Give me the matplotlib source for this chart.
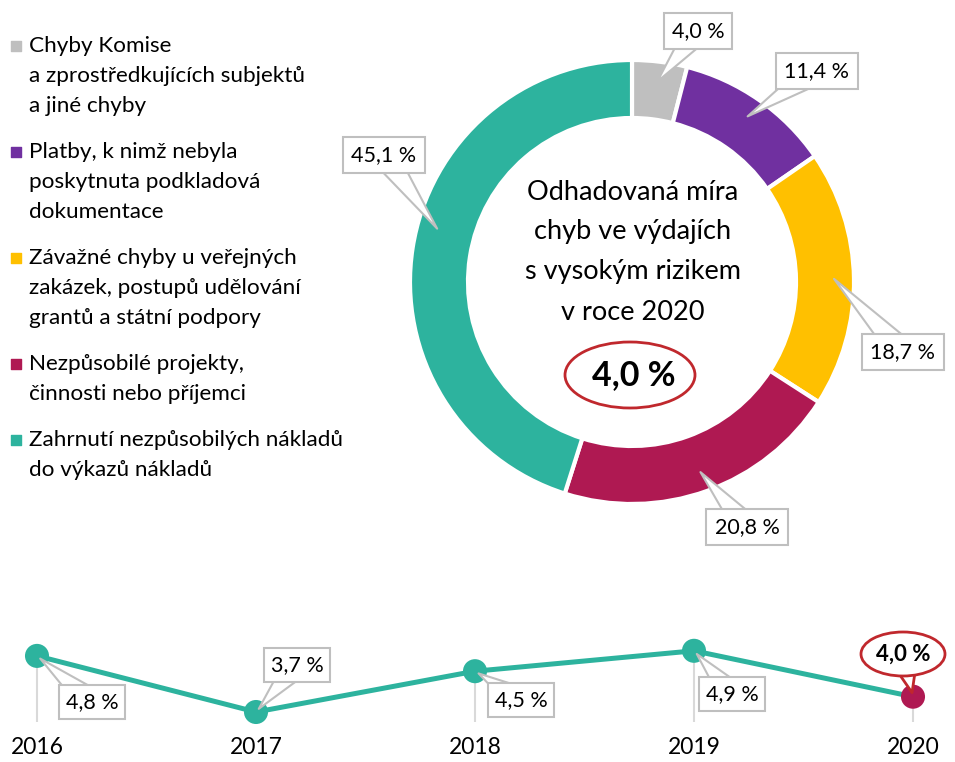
import numpy as np
import matplotlib.pyplot as plt
from matplotlib.patches import Ellipse

plt.rcParams['font.family'] = ['Lato', 'DejaVu Sans']

# data
categories = ['Chyby Komise\na zprostředkujících subjektů\na jiné chyby',
              'Platby, k nimž nebyla\nposkytnuta podkladová\ndokumentace',
              'Závažné chyby u veřejných\nzakázek, postupů udělování\ngrantů a státní podpory',
              'Nezpůsobilé projekty,\nčinnosti nebo příjemci',
              'Zahrnutí nezpůsobilých nákladů\ndo výkazů nákladů']
shares = [4.0, 11.4, 18.7, 20.8, 45.1]
colors = ['#BFBFBF', '#7030A0', '#FFC000', '#AF1952', '#2DB39E']

years = [2016, 2017, 2018, 2019, 2020]
rates = [4.8, 3.7, 4.5, 4.9, 4.0]

center_title = 'Odhadovaná míra\nchyb ve výdajích\ns vysokým rizikem\nv roce 2020'
current_rate = 4.0

teal = '#2DB39E'
crimson = '#AF1952'
red = '#C0282D'
grey = '#BFBFBF'


def fmt(v):
    return f'{v:.1f}'.replace('.', ',') + ' %'


W, H = 955, 762
fig = plt.figure(figsize=(W / 100, H / 100), dpi=100)

# legend (pixel coords)
lg = fig.add_axes([0, 0, 1, 1])
lg.set_xlim(0, W)
lg.set_ylim(H, 0)
lg.axis('off')
y = 46
for lab, c in zip(categories, colors):
    lines = lab.split('\n')
    lg.scatter([16], [y], marker='s', s=45, color=c)
    for i, line in enumerate(lines):
        lg.text(29, y + 30 * i, line, ha='left', va='center', fontsize=16.2)
    y += 30 * (len(lines) - 1) + 46

# donut, 1 data unit = R px
CX, CY, R = 632, 282, 222


def px(x, y):
    return (x - CX) / R, (CY - y) / R


ax = fig.add_axes([332 / W, 1 - 560 / H, (W - 332) / W, 560 / H])
ax.pie(shares, colors=colors, startangle=90, counterclock=False, radius=1,
       wedgeprops=dict(width=58 / R, edgecolor='white', linewidth=3))
ax.set_xlim((332 - CX) / R, (W - CX) / R)
ax.set_ylim((CY - 560) / R, CY / R)
ax.set_aspect('equal')
ax.axis('off')

label_pos = [(698, 31), (817, 71), (903, 352), (747, 527), (384, 155)]
tip_frac = [0.5, 0.5, 0.5, 0.5, 0.54]  # where along each slice the pointer lands
cum = np.cumsum([0] + shares)
for i, v in enumerate(shares):
    ang = np.deg2rad(90 - (cum[i] + v * tip_frac[i]) * 3.6)
    tip = (0.91 * np.cos(ang), 0.91 * np.sin(ang))
    ax.annotate(fmt(v), xy=tip, xytext=px(*label_pos[i]), ha='center', va='center',
                fontsize=15.5,
                bbox=dict(boxstyle='square,pad=0.38', fc='white', ec=grey, lw=1.5),
                arrowprops=dict(arrowstyle='wedge,tail_width=1.2,shrink_factor=0.5',
                                fc='white', ec=grey, lw=1.5, shrinkA=0, shrinkB=0,
                                patchA=None))

for i, line in enumerate(center_title.split('\n')):
    ax.text(*px(633, 192 + 40 * i), line, ha='center', va='center', fontsize=19.5)
ax.add_patch(Ellipse(px(630, 375), 130 / R, 66 / R, fc='none', ec=red, lw=2))
ax.text(*px(634, 375), fmt(current_rate), ha='center', va='center',
        fontsize=24.5, fontweight='bold')

# line chart at bottom
X0, PX_YR = 37, 219
Y0, PX_U = 712, 51


def yr(x):
    return 2016 + (x - X0) / PX_YR


def val(y):
    return 3.7 + (Y0 - y) / PX_U


TOP = 160
bx = fig.add_axes([0, 0, 1, TOP / H])
bx.set_xlim(yr(0), yr(W))
bx.set_ylim(val(H), val(H - TOP))
bx.axis('off')
bx.vlines(years, val(722), rates, color='#D9D9D9', lw=1.5, zorder=1)
bx.plot(years, rates, color=teal, lw=3.6, zorder=2)
bx.scatter(years, rates, s=300, c=[teal] * (len(years) - 1) + [crimson],
           zorder=2.5, linewidths=0)
for yv in years:
    bx.text(yv, val(748), str(yv), ha='center', va='center', fontsize=16.5)

line_pos = [(92, 702), (297, 665), (521, 700), (732, 694)]
for (lx, ly), yv, v in zip(line_pos, years[:-1], rates[:-1]):
    bx.annotate(fmt(v), xy=(yv, v), xytext=(yr(lx), val(ly)), ha='center', va='center',
                fontsize=15.5, zorder=4,
                bbox=dict(boxstyle='square,pad=0.33', fc='white', ec=grey, lw=1.5),
                arrowprops=dict(arrowstyle='wedge,tail_width=1.2,shrink_factor=0.5',
                                fc='white', ec=grey, lw=1.5, shrinkA=0, shrinkB=3,
                                patchA=None))

# highlighted last value
ex, ey = yr(903), val(654)
bx.annotate('', xy=(years[-1], rates[-1]), xytext=(ex, ey), zorder=4,
            arrowprops=dict(arrowstyle='wedge,tail_width=1.6,shrink_factor=0.5',
                            fc='white', ec=red, lw=2, shrinkA=0, shrinkB=3,
                            mutation_scale=14))
bx.add_patch(Ellipse((ex, ey), 84 / PX_YR, 44 / PX_U, fc='white', ec=red, lw=2, zorder=5))
bx.text(ex, ey, fmt(rates[-1]), ha='center', va='center', fontsize=16,
        fontweight='bold', zorder=6)

fig.savefig('out.png', dpi=100)
